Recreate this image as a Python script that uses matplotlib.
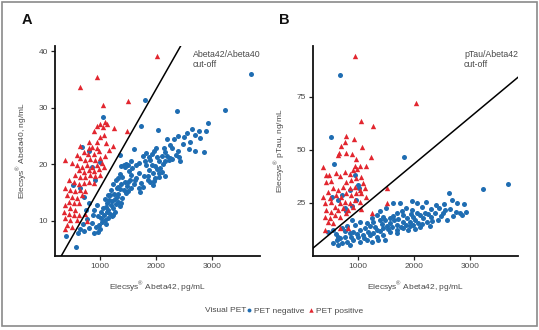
import matplotlib
matplotlib.use("Agg")
import matplotlib.pyplot as plt
from matplotlib.lines import Line2D
from matplotlib.patches import Rectangle

plt.rcParams['font.family'] = ['Liberation Sans', 'DejaVu Sans']
plt.rcParams['mathtext.fontset'] = 'custom'
plt.rcParams['mathtext.rm'] = 'Liberation Sans'

# ---------------- data ----------------
# Panel A: PET negative (Abeta42 pg/mL, Abeta40 ng/mL)
neg_A_abeta42 = [3690, 3230, 2373, 1805, 2930, 2890, 2040, 1736, 1057, 676,
                 2551, 2640, 2700, 2760, 2789, 2391, 2135, 2160, 2254, 2280,
                 2474, 2593, 2688, 2849, 2391, 2016, 2046, 2105, 2194, 2224,
                 2254, 2165, 2290, 2414, 2432, 1986, 2016, 2075, 2046, 1986,
                 2153, 1960, 1600, 1350, 1370, 1830, 1870, 1810, 1900, 1960,
                 1920, 800, 1000, 1820, 1880, 1950, 1930, 1860, 2100, 1850,
                 1900, 2050, 1720, 1760, 1740, 1690, 1450, 1520, 1560, 1620,
                 1500, 1480, 1420, 1460, 1500, 1330, 1380, 1360, 1420, 1460,
                 1500, 1560, 1600, 1650, 1250, 1300, 1220, 1280, 1330, 1190,
                 1230, 1260, 1150, 1180, 1210, 1120, 1140, 1100, 1070, 1090,
                 1040, 1060, 1010, 980, 1000, 960, 930, 900, 1160, 1180,
                 1120, 1350, 1400, 1300, 1240, 1280, 1320, 391, 575, 600,
                 650, 720, 800, 690, 760, 850, 870, 900, 950, 509,
                 646, 741, 807, 706, 914, 850, 2320, 2600, 1400, 1700,
                 1150, 1200, 1260, 1100, 1330, 1380, 1440, 1540, 1580, 1700,
                 1760, 1650, 1230, 1020, 1350, 1560, 2000, 2200, 2500, 2350,
                 2120, 1790, 1950, 970, 1080]
neg_A_abeta40 = [36.0, 29.6, 29.4, 31.3, 27.3, 25.8, 26.0, 26.7, 28.4, 23.1,
                 25.5, 26.3, 25.2, 25.8, 24.6, 25.0, 22.8, 22.2, 23.4, 22.8,
                 23.5, 22.7, 22.3, 22.1, 22.3, 21.3, 20.5, 21.4, 21.4, 20.8,
                 21.1, 20.6, 20.9, 21.3, 20.6, 19.7, 19.1, 19.4, 18.5, 17.6,
                 18.0, 17.1, 22.7, 21.6, 19.7, 22.0, 21.3, 20.5, 20.8, 22.4,
                 21.8, 22.4, 20.4, 19.8, 19.0, 18.5, 19.9, 18.0, 18.7, 17.2,
                 16.8, 17.8, 15.1, 16.0, 16.7, 15.8, 19.5, 18.8, 18.1, 17.3,
                 16.9, 16.2, 19.8, 20.1, 19.9, 17.6, 16.5, 15.6, 15.4, 14.9,
                 15.2, 15.9, 16.5, 17.6, 14.8, 14.2, 13.6, 13.0, 13.4, 12.8,
                 12.3, 11.6, 12.0, 11.3, 10.8, 11.6, 10.6, 12.5, 11.0, 10.2,
                 9.8, 12.2, 10.6, 9.3, 8.5, 8.0, 9.0, 7.8, 13.7, 14.5,
                 13.2, 12.6, 14.0, 15.8, 16.5, 17.2, 16.0, 7.3, 5.4, 7.9,
                 8.5, 8.2, 8.8, 9.5, 10.4, 9.6, 11.0, 12.0, 12.8, 16.4,
                 15.8, 11.9, 13.1, 14.3, 17.2, 19.6, 24.5, 24.0, 17.8, 18.5,
                 14.6, 15.4, 13.8, 9.5, 14.8, 13.2, 16.8, 17.2, 19.3, 20.3,
                 21.4, 19.9, 11.0, 11.5, 18.2, 20.6, 22.9, 24.4, 24.8, 21.6,
                 20.0, 17.9, 16.4, 10.8, 13.9]

# Panel A: PET positive
pos_A_abeta42 = [2020, 946, 650, 1057, 1504, 1486, 1254, 1238,
                 1004, 1080, 1123, 945, 1045, 884, 991, 1075, 945, 795, 1111,
                 646, 795, 855, 944, 706, 790, 884, 974, 587, 646,
                 736, 825, 914, 1003, 1093, 1152, 379, 498, 587, 676,
                 765, 855, 944, 1033, 617, 706, 795, 884, 974, 1063,
                 557, 646, 736, 825, 914, 1003, 438, 527, 617, 706,
                 795, 884, 379, 468, 557, 646, 736, 408, 498, 587,
                 676, 438, 527, 617, 379, 468, 557, 349, 438, 527,
                 617, 736, 379, 468, 587, 408, 498, 379, 765]
pos_A_abeta40 = [39.2, 35.4, 33.7, 30.4, 31.1, 25.8, 26.5, 23.2,
                 27.2, 27.4, 27.2, 26.7, 26.6, 25.8, 24.9, 25.2, 24.0, 24.0, 23.7,
                 23.2, 22.8, 23.1, 22.9, 22.1, 21.9, 21.8, 22.3, 21.7, 21.1,
                 20.8, 21.0, 20.8, 21.2, 21.4, 22.6, 20.8, 20.2, 19.9, 19.6,
                 19.9, 19.6, 19.9, 20.2, 19.0, 18.7, 19.0, 18.9, 19.2, 19.5,
                 18.1, 17.8, 17.8, 18.1, 17.9, 18.1, 17.2, 16.9, 16.6, 16.7,
                 16.9, 16.7, 15.8, 15.5, 15.2, 15.5, 15.3, 14.6, 14.3, 14.0,
                 14.6, 13.4, 13.2, 13.2, 12.8, 12.2, 11.9, 11.6, 11.3, 11.0,
                 11.0, 11.3, 10.5, 10.2, 10.2, 9.3, 9.0, 8.5, 9.9]

# Panel B: PET negative (Abeta42 pg/mL, pTau ng/mL)
neg_B_abeta42 = [3682, 3236, 672, 517, 1821, 565,
                 945, 1000, 1020, 707, 648, 856, 963, 790, 767, 540, 900,
                 2630, 1958, 2047, 2208, 2392, 2541, 2452, 2672, 2761, 2898,
                 2642, 2749, 2820, 2928, 2850, 2523, 2594, 2303, 2434, 2285,
                 2226, 2166, 2077, 1988, 2017, 2107, 1958, 2196,
                 1451, 1332, 1213, 1124, 1035, 916, 856, 767, 678, 618,
                 559, 707, 797, 916, 1005, 1094, 1213, 1332, 1451, 1570,
                 1689, 1808, 1927, 1570, 1689, 1808, 1927, 1511, 1035, 945,
                 886, 797, 707, 559, 469, 1035, 1154, 1243, 1362, 1481,
                 856, 648, 1618, 1749, 1689, 1808, 1570, 1392, 1273, 1154,
                 1451, 1332, 2046,
                 1180, 1270, 1390, 1420, 1530, 1600, 1650, 1720, 1760, 1850,
                 1880, 1900, 1990, 2010, 2100, 2150, 2250, 2330, 2380, 2480,
                 2560, 2700, 1100, 980, 880, 760, 1300, 1480, 1620, 1780,
                 1850, 2150, 2300, 1400, 1500, 1250, 600, 640, 1700, 1950]
neg_B_ptau = [33.8, 31.6, 85.2, 56.0, 46.9, 43.4,
              38.2, 33.5, 32.0, 28.8, 26.4, 31.1, 26.4, 21.0, 22.6, 28.0, 23.5,
              29.6, 26.1, 24.9, 25.3, 24.1, 24.4, 22.6, 26.4, 24.9, 24.4,
              22.0, 20.9, 20.1, 20.9, 19.3, 20.1, 17.0, 18.6, 17.0, 14.2,
              16.2, 17.8, 15.4, 14.6, 17.0, 19.4, 21.7, 20.1,
              13.0, 12.3, 14.2, 13.0, 12.3, 11.5, 10.7, 9.1, 8.3, 7.5,
              6.0, 6.0, 6.8, 7.5, 9.1, 9.9, 9.9, 9.1, 9.9, 11.5,
              12.3, 13.0, 14.2, 15.6, 14.8, 16.2, 16.2, 14.2, 16.2, 14.6,
              17.0, 14.2, 13.4, 12.3, 11.5, 6.8, 7.5, 6.8, 7.5, 7.5,
              5.3, 5.3, 25.1, 25.2, 20.1, 19.3, 17.8, 17.0, 16.2, 15.6,
              18.6, 19.4, 20.1,
              11.2, 10.8, 11.8, 14.9, 12.8, 13.5, 16.8, 17.5, 13.8, 14.6,
              17.8, 12.4, 18.6, 12.9, 13.8, 15.2, 19.6, 16.5, 20.5, 18.9,
              21.9, 18.8, 8.3, 10.4, 8.8, 11.8, 13.8, 17.0, 19.0, 21.2,
              22.8, 23.0, 22.2, 21.0, 22.5, 18.0, 10.2, 9.0, 10.8, 19.6]

# Panel B: PET positive
pos_B_abeta42 = [946, 2030, 1053, 1262, 791, 934, 767, 696, 1066, 655,
                 650, 791, 892, 1238, 969, 374, 940, 1040, 1148, 1512,
                 1512, 1244,
                 422, 482, 434, 523, 613, 672, 761, 851, 910, 981,
                 791, 880, 970, 1059, 1089, 553, 464, 642, 732, 851,
                 940, 1029, 1118, 375, 494, 613, 702, 791, 880, 970,
                 1059, 1148, 404, 523, 583, 672, 761, 851, 940, 1029,
                 434, 523, 642, 732, 821, 910, 404, 494, 583, 672,
                 791, 464, 553, 404, 672, 821, 1059]
pos_B_ptau = [94.5, 72.3, 63.7, 61.5, 56.5, 55.0, 53.9, 52.0, 51.4, 48.4,
              47.4, 48.7, 48.1, 46.9, 45.6, 42.0, 42.5, 42.3, 42.4, 31.9,
              25.0, 20.3,
              38.2, 38.2, 35.1, 35.5, 39.0, 37.7, 39.8, 38.7, 40.6, 40.9,
              35.1, 35.8, 36.6, 37.4, 34.3, 31.9, 30.4, 31.1, 32.7, 31.9,
              32.7, 31.1, 31.9, 28.0, 27.2, 28.8, 28.0, 29.6, 28.8, 29.6,
              29.6, 28.0, 24.9, 25.6, 23.3, 24.9, 25.6, 24.9, 26.4, 25.6,
              21.7, 20.9, 21.7, 22.5, 21.7, 23.3, 18.6, 17.8, 19.4, 18.6,
              20.1, 16.2, 15.4, 12.3, 13.0, 13.4, 22.2]

# cut-off lines (slope, intercept)
cutoff_A_slope, cutoff_A_intercept = 0.0174, -1.55
cutoff_B_slope, cutoff_B_intercept = 0.0220, -0.6

x_ticks = [1000, 2000, 3000]
y_ticks_A = [10, 20, 30, 40]
y_ticks_B = [25, 50, 75]

# ---------------- style ----------------
BLUE = '#1f6db2'
RED = '#e2262f'
TXT = '#4a4a4a'

fig = plt.figure(figsize=(5.39, 3.30), dpi=100)
W, H = 539, 330

def ax_rect(l, t, r, b):
    return [l / W, 1 - b / H, (r - l) / W, (b - t) / H]

axA = fig.add_axes(ax_rect(55, 46, 260, 256))
axB = fig.add_axes(ax_rect(313, 46, 518, 256))

xlabel = r'Elecsys$^{\mathrm{®}}$ Abeta42, pg/mL'

def style(ax, yticks, ylim, ylabel):
    ax.set_xlim(196, 3857)
    ax.set_ylim(*ylim)
    ax.set_xticks(x_ticks)
    ax.set_yticks(yticks)
    for s in ['top', 'right']:
        ax.spines[s].set_visible(False)
    for s in ['left', 'bottom']:
        ax.spines[s].set_linewidth(1.3)
        ax.spines[s].set_color('#111111')
    ax.tick_params(axis='both', length=3, width=0.9, color='#222222',
                   labelsize=6, labelcolor=TXT, pad=2)
    ax.set_xlabel(xlabel, fontsize=6, color=TXT, labelpad=7)
    ax.set_ylabel(ylabel, fontsize=6, color=TXT, labelpad=7)

ms_c, ms_t = 13, 15
axA.scatter(neg_A_abeta42, neg_A_abeta40, s=ms_c, marker='o', color=BLUE, linewidths=0, zorder=3)
axA.scatter(pos_A_abeta42, pos_A_abeta40, s=ms_t, marker='^', color=RED, linewidths=0, zorder=3)
axA.axline((0, cutoff_A_intercept), slope=cutoff_A_slope, color='black', lw=1.1, zorder=4)
style(axA, y_ticks_A, (3.8, 40.9), r'Elecsys$^{\mathrm{®}}$ Abeta40, ng/mL')

axB.scatter(neg_B_abeta42, neg_B_ptau, s=ms_c, marker='o', color=BLUE, linewidths=0, zorder=3)
axB.scatter(pos_B_abeta42, pos_B_ptau, s=ms_t, marker='^', color=RED, linewidths=0, zorder=3)
axB.axline((0, cutoff_B_intercept), slope=cutoff_B_slope, color='black', lw=1.1, zorder=4)
style(axB, y_ticks_B, (0, 99), r'Elecsys$^{\mathrm{®}}$ pTau, ng/mL')

axA.text(193 / W, 1 - 50 / H, 'Abeta42/Abeta40\ncut-off', transform=fig.transFigure,
         fontsize=6.3, color=TXT, va='top', ha='left', linespacing=1.15)
axB.text(464 / W, 1 - 50 / H, 'pTau/Abeta42\ncut-off', transform=fig.transFigure,
         fontsize=6.3, color=TXT, va='top', ha='left', linespacing=1.15)

fig.text(22 / W, 1 - 20 / H, 'A', fontsize=10.5, fontweight='bold', color='#111111', va='center', ha='left')
fig.text(279 / W, 1 - 20 / H, 'B', fontsize=10.5, fontweight='bold', color='#111111', va='center', ha='left')

# legend
fig.text(205 / W, 1 - 311 / H, 'Visual PET', fontsize=6, color=TXT, va='center', ha='left')
handles = [Line2D([], [], marker='o', ls='none', color=BLUE, markersize=2.8, markeredgewidth=0),
           Line2D([], [], marker='^', ls='none', color=RED, markersize=3.2, markeredgewidth=0)]
fig.legend(handles, ['PET negative', 'PET positive'], loc='center left',
           bbox_to_anchor=(246 / W, 1 - 311 / H), ncol=2, frameon=False,
           fontsize=6, handlelength=0.6, handletextpad=0.3, columnspacing=0.6,
           borderpad=0, borderaxespad=0, labelcolor=TXT)

# outer frame
fig.patches.append(Rectangle((1.5 / W, 4 / H), (W - 4) / W, (H - 6) / H, transform=fig.transFigure,
                             fill=False, edgecolor='#8a8a8a', lw=1.2))

fig.savefig('out.png', dpi=100, facecolor='white')
